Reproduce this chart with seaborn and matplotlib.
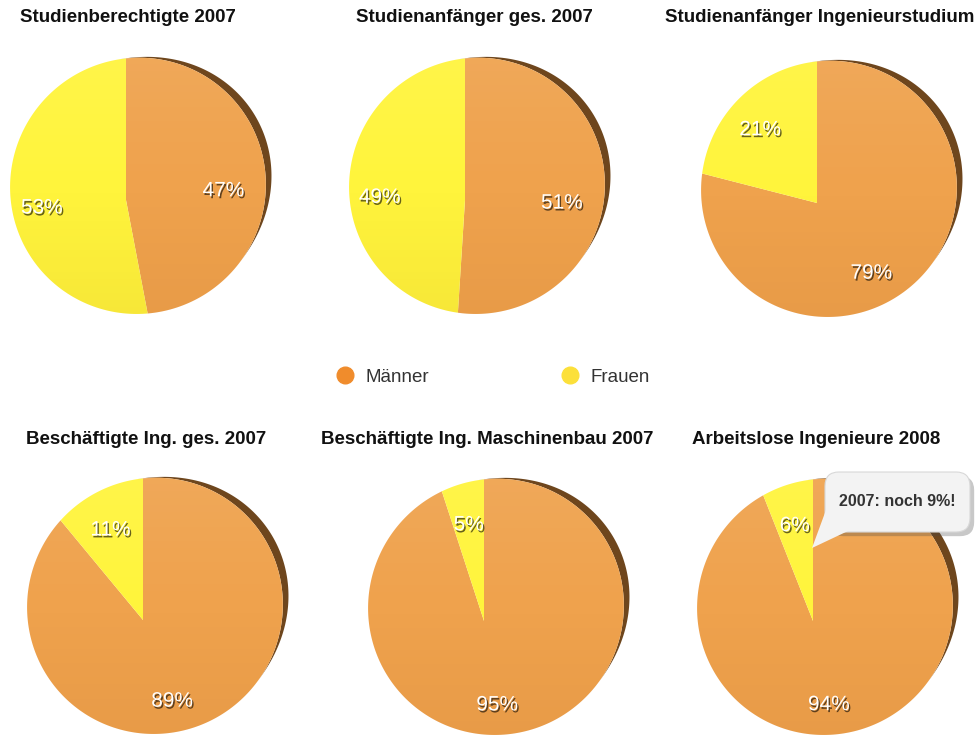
import matplotlib
matplotlib.use("Agg")
import matplotlib.pyplot as plt
import matplotlib.patheffects as pe
from matplotlib.patches import FancyBboxPatch, Polygon
from matplotlib.lines import Line2D
import numpy as np
import seaborn as sns

# ---- data ----
titles = ["Studienberechtigte 2007", "Studienanfänger ges. 2007",
          "Studienanfänger Ingenieurstudium",
          "Beschäftigte Ing. ges. 2007", "Beschäftigte Ing. Maschinenbau 2007",
          "Arbeitslose Ingenieure 2008"]
maenner = [47, 51, 79, 89, 95, 94]
frauen = [53, 49, 21, 11, 5, 6]
series_labels = ["Männer", "Frauen"]
callout_text = "2007: noch 9%!"

# ---- style ----
sns.set_theme(style="white")
plt.rcParams['font.family'] = ['Liberation Sans', 'DejaVu Sans']

pie_colors = ["#EFA24D", "#FFF43C"]
legend_colors = ["#F08C2C", "#FCE03A"]
shadow_color = "#6E461D"

W, H = 979, 736
fig = plt.figure(figsize=(W / 100, H / 100), dpi=100)
ax = fig.add_axes([0, 0, 1, 1])

# layout in pixel coordinates (x, y from top): wedge vertex of each pie
vertices = [(126, 200), (465, 200), (817, 203), (143, 620), (484, 621), (813, 621)]
R = 126.0
P, Q = -0.093, -0.11   # perspective tilt of the disks
title_pos = [(128, 18), (474, 18), (820, 18), (146, 440), (487, 440), (816, 440)]


def proj(u, v, vx, vy):
    w = 1 + P * u + Q * v
    return vx + R * u / w, (H - vy) + R * v / w


def outline(vx, vy, n=400):
    a = np.linspace(0, 2 * np.pi, n)
    x, y = proj(np.cos(a), np.sin(a), vx, vy)
    return np.column_stack([x, y])


txt_shadow = [pe.SimplePatchShadow(offset=(1.0, -1.4), shadow_rgbFace="black", alpha=0.6),
              pe.Normal()]

# vertical shading overlay
N = 256
tt = np.linspace(0, 1, N)
grad = np.zeros((N, 1, 4))
top = tt < 0.5
grad[top, 0, :3] = 1.0
grad[top, 0, 3] = 0.07 * (1 - 2 * tt[top])
grad[~top, 0, 0] = 0.55
grad[~top, 0, 1] = 0.25
grad[~top, 0, 2] = 0.0
grad[~top, 0, 3] = 0.07 * (2 * tt[~top] - 1)

for i in range(6):
    vx, vy = vertices[i]
    wedges, texts, autotexts = ax.pie(
        [maenner[i], frauen[i]], colors=pie_colors, startangle=90, counterclock=False,
        center=(0, 0), radius=1, autopct=lambda p: f"{p:.0f}%",
        pctdistance=0.72, wedgeprops=dict(linewidth=0), frame=True)
    # rebuild each wedge in perspective
    for w in wedges:
        a = np.radians(np.linspace(w.theta1, w.theta2, 300))
        u = np.concatenate([[0], np.cos(a)])
        v = np.concatenate([[0], np.sin(a)])
        x, y = proj(u, v, vx, vy)
        ax.add_patch(Polygon(np.column_stack([x, y]), closed=True,
                             fc=w.get_facecolor(), ec="none", zorder=2))
        w.remove()
    for t in autotexts:
        px, py = t.get_position()
        t.set_position(proj(px, py, vx, vy))
        t.set_color("white")
        t.set_fontsize(15)
        t.set_zorder(5)
        t.set_path_effects(txt_shadow)

    # rim shadow on the upper right side
    ol = outline(vx, vy, 800)
    cx0, cy0 = ol[:, 0].mean(), ol[:, 1].mean()
    cw = np.linspace(-3, 118, 400)               # clockwise from top, degrees
    ma = np.radians(90 - cw)
    ox, oy = proj(np.cos(ma), np.sin(ma), vx, vy)
    nx, ny = ox - cx0, oy - cy0
    nn = np.hypot(nx, ny)
    s = (cw - cw[0]) / (cw[-1] - cw[0])
    thick = 8.0 * np.sin(np.pi * s) ** 1.6
    sx, sy = ox + thick * nx / nn, oy + thick * ny / nn
    shadow = np.column_stack([np.concatenate([sx, ox[::-1]]), np.concatenate([sy, oy[::-1]])])
    ax.add_patch(Polygon(shadow, closed=True, fc=shadow_color, ec="none", zorder=1))

    # soft vertical shading clipped to the disk
    clip = Polygon(ol, closed=True, transform=ax.transData, fc="none", ec="none")
    ax.add_patch(clip)
    im = ax.imshow(grad, extent=[ol[:, 0].min(), ol[:, 0].max(), ol[:, 1].min(), ol[:, 1].max()],
                   origin="upper", aspect="auto", interpolation="bilinear", zorder=3)
    im.set_clip_path(clip)

    tx, ty = title_pos[i]
    ax.text(tx, H - ty, titles[i], ha="center", va="center", fontsize=13.5,
            fontweight="bold", color="#111111", zorder=6)

# callout bubble
bx, by, bw, bh = 825, 472, 145, 60
bubble = FancyBboxPatch((bx, H - by - bh), bw, bh,
                        boxstyle="round,pad=0,rounding_size=14",
                        fc="#F3F3F3", ec="#D8D8D8", lw=0.8, zorder=7,
                        path_effects=[pe.SimplePatchShadow(offset=(3, -3), alpha=0.3), pe.Normal()])
ax.add_patch(bubble)
tail = Polygon([(826, H - 510), (848, H - 531), (812, H - 548)], closed=True,
               fc="#F3F3F3", ec="none", zorder=8)
ax.add_patch(tail)
ax.text(bx + bw / 2, H - (by + bh / 2), callout_text, ha="center", va="center",
        fontsize=11.5, fontweight="bold", color="#333333", zorder=9)

# legend
handles = [Line2D([], [], marker="o", ls="", ms=12, color=c, mec=c) for c in legend_colors]
leg = ax.legend(handles, series_labels, ncol=2, loc="center",
                bbox_to_anchor=(493 / W, 1 - 377 / H), frameon=False,
                fontsize=13.5, columnspacing=7.0, handletextpad=0.6, handlelength=1.0)
for t in leg.get_texts():
    t.set_color("#333333")

ax.set_xlim(0, W)
ax.set_ylim(0, H)
ax.set_aspect("auto")
ax.axis("off")

fig.savefig("out.png", dpi=100, facecolor="white")
